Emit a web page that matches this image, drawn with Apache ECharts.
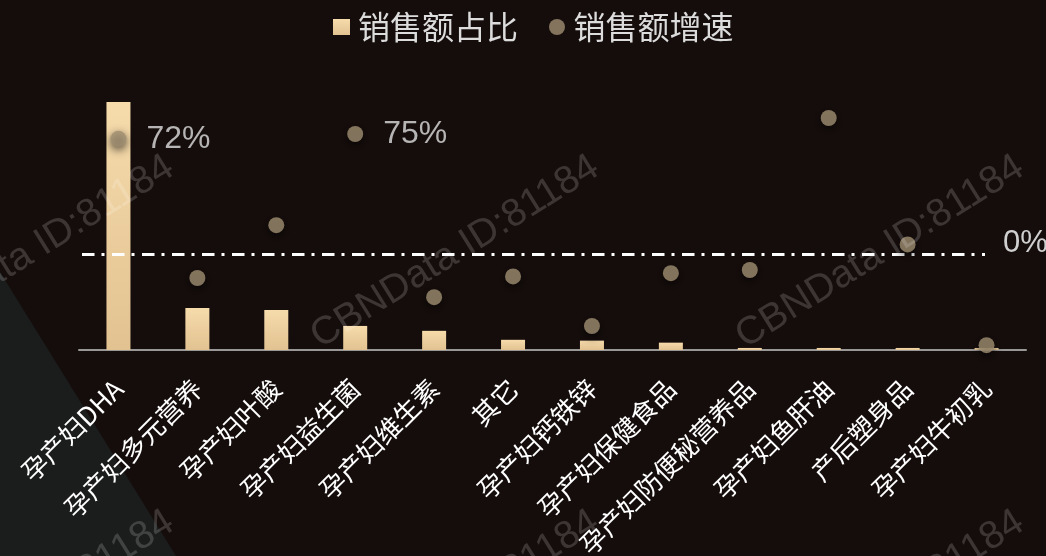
<!DOCTYPE html>
<html>
<head>
<meta charset="utf-8">
<title>孕产妇营养品 销售额占比与增速</title>
<script src="https://cdn.jsdelivr.net/npm/echarts@6/dist/echarts.min.js"></script>
<style>
  html, body { margin: 0; padding: 0; background: #150d0c; }
  #chart { width: 1046px; height: 556px; }
</style>
</head>
<body>
<div id="chart"></div>
<script>
// Product categories
const categories = [
  '孕产妇DHA', '孕产妇多元营养', '孕产妇叶酸', '孕产妇益生菌', '孕产妇维生素', '其它',
  '孕产妇钙铁锌', '孕产妇保健食品', '孕产妇防便秘营养品', '孕产妇鱼肝油', '产后塑身品', '孕产妇牛初乳'
];
// Share of sales (%)
const salesShare = [60.8, 10.3, 9.8, 5.9, 4.7, 2.5, 2.3, 1.8, 0.5, 0.5, 0.5, 0.5];
// Sales growth rate (%)
const salesGrowth = [72, -15, 18, 75, -27, -14, -45, -12, -10, 85, 6, -57];
// Growth values that carry a printed label
const labelledGrowth = ['孕产妇DHA', '孕产妇益生菌'];
const seriesNames = ['销售额占比', '销售额增速'];
const baselineLabel = '0%';
const watermarkText = 'CBNData ID:81184';

const chart = echarts.init(document.getElementById('chart'), null, { renderer: 'canvas' });

const barColor = new echarts.graphic.LinearGradient(0, 0, 0, 1, [
  { offset: 0, color: '#f6dbab' },
  { offset: 1, color: '#e2c291' }
]);

const growthData = salesGrowth.map((v, i) => ({
  value: v,
  label: { show: labelledGrowth.indexOf(categories[i]) >= 0 }
}));

// Repeated faint watermark across the canvas
const marks = [];
[[30, 252], [455, 252], [880, 252], [30, 607], [455, 607], [880, 607]].forEach(p => {
  marks.push({
    type: 'text', x: p[0], y: p[1], rotation: 32 * Math.PI / 180, z: 50, silent: true,
    style: {
      text: watermarkText, fill: 'rgba(255,255,255,0.17)',
      font: '39px "Liberation Sans", Arial, sans-serif',
      align: 'center', verticalAlign: 'middle'
    }
  });
});

chart.setOption({
  backgroundColor: '#150d0c',
  animation: false,
  graphic: [
    {
      type: 'polygon', z: 0, silent: true,
      shape: { points: [[0, 272], [176, 556], [0, 556]] },
      style: { fill: '#1b1c1c' }
    }
  ].concat(marks),
  legend: {
    top: 6,
    left: 328,
    itemGap: 31,
    itemWidth: 17,
    itemHeight: 16,
    textStyle: {
      color: '#dcdcdc', fontSize: 32, padding: [0, 0, 0, 3],
      fontFamily: '"Noto Sans CJK SC", sans-serif'
    },
    data: [
      { name: seriesNames[0], icon: 'rect' },
      { name: seriesNames[1], icon: 'circle' }
    ]
  },
  grid: { left: 79, right: 20, top: 102, bottom: 206, outerBoundsMode: 'none' },
  xAxis: {
    type: 'category',
    data: categories,
    axisTick: { show: false },
    axisLine: { lineStyle: { color: '#9a9896', width: 2 } },
    axisLabel: {
      interval: 0, rotate: 45, margin: 34,
      color: '#ffffff', fontSize: 26,
      fontFamily: '"Noto Sans CJK SC", sans-serif'
    }
  },
  yAxis: [
    { type: 'value', min: 0, max: 60.8, show: false, splitLine: { show: false } },
    { type: 'value', min: -60, max: 95, show: false, splitLine: { show: false } }
  ],
  series: [
    {
      name: seriesNames[0],
      type: 'bar',
      barWidth: 24,
      yAxisIndex: 0,
      itemStyle: { color: barColor },
      data: salesShare
    },
    {
      name: seriesNames[1],
      type: 'scatter',
      yAxisIndex: 1,
      symbolSize: 16,
      z: 5,
      itemStyle: {
        color: '#a08f72',
        shadowBlur: 10,
        shadowColor: 'rgba(0,0,0,0.85)',
        shadowOffsetY: 3
      },
      label: {
        position: 'right', distance: 20,
        color: '#dedede', fontSize: 32,
        fontFamily: '"Liberation Sans", Arial, sans-serif',
        formatter: p => p.value + '%'
      },
      data: growthData,
      markLine: {
        silent: true,
        symbol: 'none',
        lineStyle: { color: '#ffffff', width: 3, type: [12.5, 7, 3, 7.5] },
        label: {
          show: true, position: 'end', distance: 18,
          formatter: baselineLabel,
          color: '#cfcfcf', fontSize: 31,
          verticalAlign: 'bottom', lineHeight: 22,
          fontFamily: '"Liberation Sans", Arial, sans-serif'
        },
        data: [[{ x: 82, yAxis: 0 }, { x: 985, yAxis: 0 }]]
      }
    }
  ]
});
</script>
</body>
</html>
